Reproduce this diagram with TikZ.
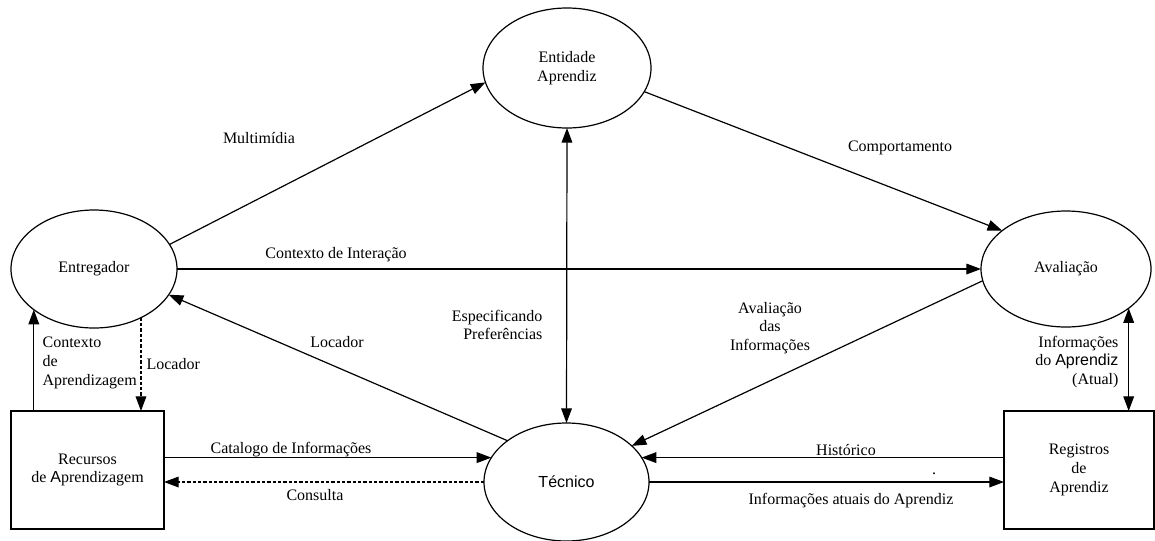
\documentclass[tikz,border=0pt]{standalone}
\usepackage{fontspec}
\setmainfont{Liberation Serif}
\newfontfamily\arialfont{Liberation Sans}
\usetikzlibrary{shapes.geometric,arrows.meta}
\begin{document}
\begin{tikzpicture}[x=0.75pt,y=-0.75pt,
  font=\fontsize{12}{14}\selectfont,
  line width=0.9pt,
  oval/.style={draw, ellipse, inner sep=0pt, outer sep=0pt, align=center},
  box/.style={draw, rectangle, inner sep=0pt, outer sep=0pt, align=center},
  tip/.style={-{Triangle[length=11pt,width=8pt]}},
  tips/.style={{Triangle[length=11pt,width=8pt]}-{Triangle[length=11pt,width=8pt]}},
  dotline/.style={dash pattern=on 2.5pt off 1.5pt},
  lbl/.style={inner sep=0pt}]
\useasboundingbox (0,0) rectangle (1155,540);

% processes (ellipses) and stores (boxes)
\node[oval, minimum width=126pt, minimum height=90pt] (ent) at (567,68) {Entidade\\Aprendiz};
\node[oval, minimum width=124.5pt, minimum height=88.5pt] (entr) at (94,269) {Entregador};
\node[oval, minimum width=127.5pt, minimum height=87pt] (aval) at (1066,269) {Avaliação};
\node[oval, minimum width=123.75pt, minimum height=88.5pt] (tec) at (566.5,482) {\arialfont Técnico};
\node[box, minimum width=114.75pt, minimum height=88.5pt] (rec) at (87.5,470) {Recursos\\de {\arialfont A}prendizagem};
\node[box, minimum width=112.5pt, minimum height=88.5pt] (reg) at (1079,470) {Registros\\de\\Aprendiz};

% flows
\draw[tip] (entr.18) -- (ent.190);
\draw[tip] (ent.-17) -- (aval.149);
\draw[tip] (entr.east) -- (aval.west);
\draw[tips] (ent.south) -- (tec.north);
\draw[tip] (tec.145) -- (entr.-19);
\draw[tip] (aval.188) -- (tec.29);
\draw[tip] (entr.214 |- rec.north) -- (entr.214);
\draw[tip, dotline] (entr.-46) -- (entr.-46 |- rec.north);
\draw[tip] (tec.162 -| rec.east) -- (tec.162);
\draw[tip, dotline] (tec.west) -- (tec.west -| rec.east);
\draw[tip] (tec.18 -| reg.west) -- (tec.18);
\draw[tip] (tec.east) -- (tec.east -| reg.west);
\draw[tips] (aval.-32) -- (aval.-32 |- reg.north);

% flow labels
\node[lbl] (lmult) at (259,138) {Multimídia};
\node[lbl] (lcomp) at (900,148) {Comportamento};
\node[lbl] (lctxi) at (336,255) {Contexto de Interação};
\node[lbl] (lloc) at (337,342) {Locador};
\node[lbl, anchor=west] (lloc2) at (146,364) {Locador};
\node[lbl, anchor=west, align=left] (lctxa) at (42,363) {Contexto\\de\\Aprendizagem};
\node[lbl, anchor=east, align=right] (lesp) at (543,325) {Especificando\\Preferências};
\node[lbl, align=center] (lavi) at (770,328) {Avaliação\\das\\Informações};
\node[lbl] (lcat) at (291,450) {Catalogo de Informações};
\node[lbl] (lcons) at (315,495) {Consulta};
\node[lbl] (lhist) at (846,450) {Histórico};
\node[lbl] (latu) at (851,501) {Informações atuais do Aprendiz};
\node[lbl, anchor=east, align=right] (linf) at (1119,362) {Informações\\do {\arialfont Aprendiz}\\(Atual)};
\node[lbl] (ldot) at (934,474) {.};
\end{tikzpicture}
\end{document}
